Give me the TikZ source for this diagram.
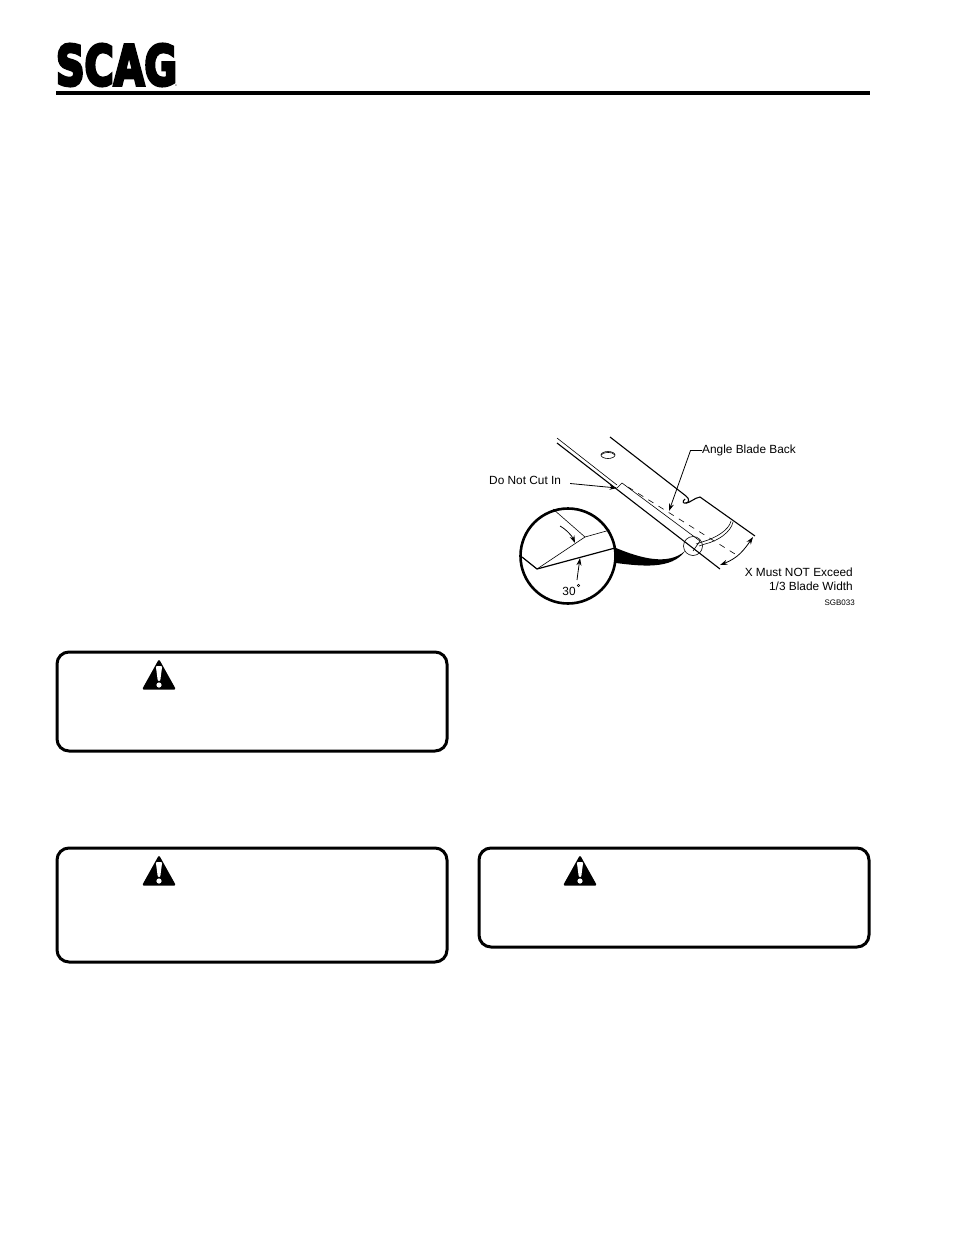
\documentclass[tikz,border=0pt]{standalone}
\usepackage{fontspec}
\usetikzlibrary{arrows.meta}
\setmainfont{Liberation Sans}
\newfontfamily\logofont[FakeBold=6]{DejaVu Sans Bold}
\tikzset{
  warnbox/.style={draw, line width=3pt, rounded corners=12pt, minimum width=390pt, inner sep=0pt},
  calltext/.style={font=\fontsize{11.85}{14}\selectfont, inner sep=0pt},
  thinline/.style={line width=0.6pt},
  bladeline/.style={line width=1.1pt},
  leader/.style={line width=0.8pt, -{Stealth[length=7.5pt,width=5pt]}},
  pics/warnsign/.style={code={
    \fill[black, rounded corners=1.5pt] (0,-1) -- (17,29.5) -- (-17,29.5) -- cycle;
    \fill[white, rounded corners=1pt] (-3.2,6) -- (3.2,6) -- (1.2,21) -- (-1.2,21) -- cycle;
    \fill[white] (0,25) circle (2.6);
  }}
}
\begin{document}
\begin{tikzpicture}[x=1pt, y=-1pt]
  \useasboundingbox (0,0) rectangle (954,1235);

  % Header logo and rule
  \node[inner sep=0pt, anchor=center] (logo) at (116.5,65) {\resizebox{121pt}{41pt}{\logofont SCAG}};
  \node[inner sep=0pt, font=\fontsize{2.5}{3}\selectfont] (regmark) at (176,86) {®};
  \draw[line width=4pt] (56,93) -- (870,93);

  % Warning boxes
  \node[warnbox, minimum height=99pt] (boxone) at (252,701.5) {};
  \node[warnbox, minimum height=114pt] (boxtwo) at (252,905) {};
  \node[warnbox, minimum height=99pt] (boxthree) at (674,897.5) {};
  \pic at (159,660) {warnsign};
  \pic at (159,856) {warnsign};
  \pic at (580,856) {warnsign};

  % Blade outline
  \draw[bladeline] (610,437) -- (686,496) .. controls (690,499) and (689,503) .. (686,503)
    .. controls (683,504) and (682,501) .. (685,499);
  \draw[bladeline] (686,503) .. controls (690,503) and (694,498) .. (700,497)
    -- (755,536);
  \draw[bladeline] (557,443) -- (720,569);
  \draw[thinline] (557,438) -- (617,485);

  % Cut edge
  \draw[thinline] (617,488) -- (622,483) -- (700,541);
  \draw[thinline, dash pattern=on 6pt off 6pt] (628,487) -- (735,554);
  \draw[thinline] (731,521) .. controls (729,530) and (716,538) .. (702,542) -- (696,544);
  \draw[thinline] (733,522) .. controls (731,532) and (718,541) .. (705,544) -- (699,546);
  \draw[thinline] (700,541) -- (693,551);
  \draw[thinline] (608,455) ellipse (7 and 3.5);
  \draw[thinline] (601,455) .. controls (603,452) and (612,451) .. (615,455);

  % Detail circle and swoosh
  \draw[thinline] (693,546) circle (9.5);
  \fill[black] (616,548) .. controls (640,558) and (668,566) .. (685,551)
    .. controls (672,570) and (640,566) .. (616,563) -- cycle;
  \draw[line width=2.6pt, fill=white] (568,556) circle (47.5);

  % Inside the detail circle
  \draw[line width=1.2pt] (522,557) -- (537,569) -- (615,548);
  \draw[thinline] (537,569) -- (585,537) -- (610,530);
  \draw[thinline] (553,509) -- (585,537);
  \coordinate (bevelend) at (575,543);
  \coordinate (anglefoot) at (580,558);
  \draw[leader] (560,526) .. controls (567,530) and (572,536) .. (bevelend);

  % Labels
  \node[calltext, anchor=west] (backlabel) at (702,450.5) {Angle Blade Back};
  \node[calltext, anchor=west] (cutlabel) at (489,480.5) {Do Not Cut In};
  \node[calltext, anchor=east] (xlabel) at (853,572.5) {X Must NOT Exceed};
  \node[calltext, anchor=east] (widthlabel) at (853,586.5) {1/3 Blade Width};
  \node[inner sep=0pt, anchor=east, font=\fontsize{8}{10}\selectfont] (partlabel) at (855,603) {SGB033};
  \node[calltext] (anglelabel) at (569,591.5) {30};
  \fill[black] (578.5,585.5) circle (1.6);
  \fill[white] (578.5,585.5) circle (0.5);

  % Leaders
  \coordinate (backtip) at (669,511);
  \coordinate (cuttip) at (617,488);
  \coordinate (dimtop) at (753,537);
  \coordinate (dimbot) at (720,565);
  \coordinate (anglestart) at (577,580);
  \draw[leader] (backlabel.west) -- (690.5,450.5) -- (backtip);
  \draw[leader] ([xshift=9pt,yshift=-3pt]cutlabel.east) -- (cuttip);
  \draw[leader] (anglestart) .. controls (578,572) and (579,565) .. (anglefoot);
  \draw[leader, {Stealth[length=7.5pt,width=5pt]}-{Stealth[length=7.5pt,width=5pt]}] (dimtop) .. controls (744,550) and (738,558) .. (dimbot);
\end{tikzpicture}
\end{document}
